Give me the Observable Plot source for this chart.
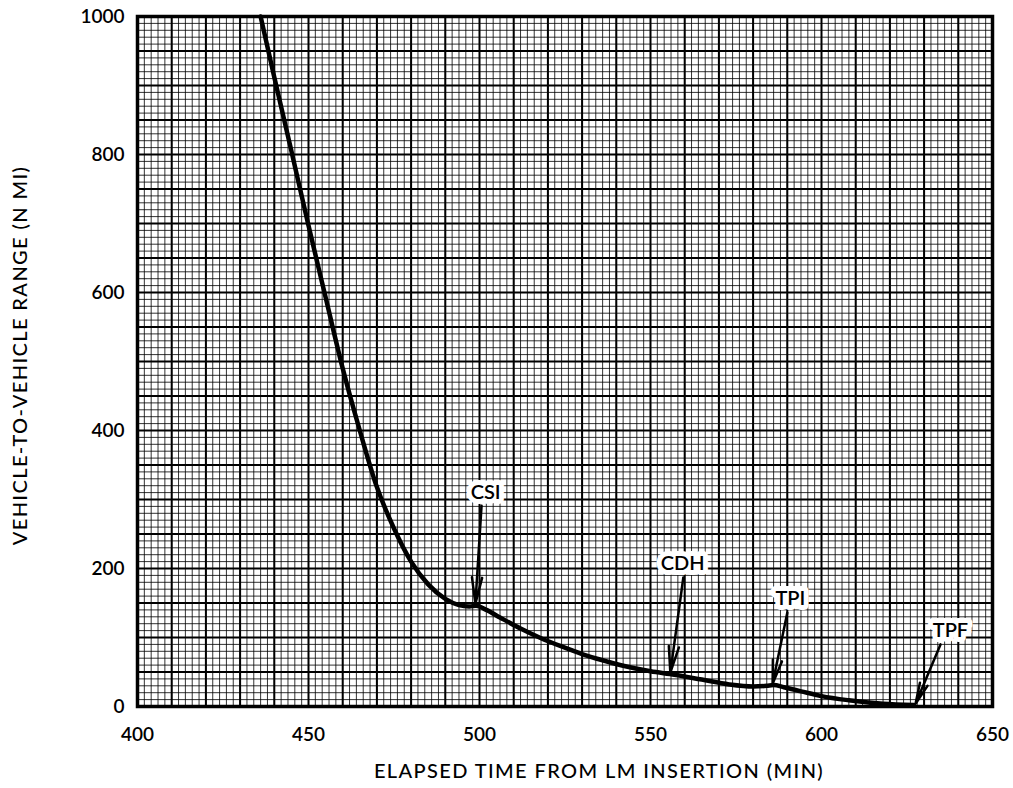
<!DOCTYPE html>
<html>
<head>
<meta charset="utf-8">
<script src="https://cdn.jsdelivr.net/npm/d3@7"></script>
<script src="https://cdn.jsdelivr.net/npm/@observablehq/plot@0.6"></script>
<style>
  html, body { margin: 0; padding: 0; background: #fff; }
</style>
</head>
<body>
<div id="chart"></div>
<script>
// Curve: elapsed time from LM insertion (min) vs vehicle-to-vehicle range (n mi)
const time  = [436, 440, 445, 450, 455, 460, 465, 470, 475, 480, 485, 490, 494, 497, 499, 502, 506, 512, 518, 524, 530, 536, 542, 550, 557, 565, 573, 580, 584, 586, 589, 594, 600, 608, 618, 627];
const range = [1000, 912, 805, 697, 593, 490, 400, 318, 258, 210, 177, 156, 147, 145, 146, 140, 129, 113, 99, 87, 76, 67, 59, 51, 46, 39, 32, 29, 30, 31, 28, 22, 15, 9, 4, 2];

// Event annotations
const eventLabels    = ["CSI", "CDH", "TPI", "TPF"];
const labelTime      = [501.8, 559.4, 590.9, 637.7];
const labelRange     = [310, 207, 157, 110];
const arrowFromTime  = [500.6, 559.6, 590.0, 634.8];
const arrowFromRange = [291, 187, 136, 90];
const arrowToTime    = [498.8, 555.8, 585.7, 627.5];
const arrowToRange   = [149, 49, 33, 4];

// Axis ticks and titles
const xTicks = [400, 450, 500, 550, 600, 650];
const yTicks = [0, 200, 400, 600, 800, 1000];
const xTitle = "ELAPSED TIME FROM LM INSERTION (MIN)";
const yTitle = "VEHICLE-TO-VEHICLE RANGE (N MI)";

const curve = time.map((t, i) => ({t, r: range[i]}));
const events = eventLabels.map((name, i) => ({
  name, lt: labelTime[i], lr: labelRange[i],
  x1: arrowFromTime[i], y1: arrowFromRange[i], x2: arrowToTime[i], y2: arrowToRange[i]
}));

const fineX = d3.range(400, 651, 2);
const fineY = d3.range(0, 1001, 10);
const majorX = d3.range(400, 651, 10);
const majorY = d3.range(0, 1001, 50);

const font = "Lato, 'Open Sans', sans-serif";

const chart = Plot.plot({
  width: 1013,
  height: 788,
  marginLeft: 137,
  marginRight: 21,
  marginTop: 16,
  marginBottom: 82,
  style: {fontFamily: font, fontSize: "18px", color: "#000", background: "#fff"},
  x: {domain: [400, 650]},
  y: {domain: [0, 1000]},
  marks: [
    Plot.ruleX(fineX, {stroke: "#000", strokeOpacity: 0.8, strokeWidth: 1}),
    Plot.ruleY(fineY, {stroke: "#000", strokeOpacity: 0.8, strokeWidth: 1}),
    Plot.ruleX(majorX, {stroke: "#000", strokeWidth: 2}),
    Plot.ruleY(majorY, {stroke: "#000", strokeWidth: 2}),
    Plot.frame({stroke: "#000", strokeWidth: 3.5}),
    Plot.axisX({ticks: xTicks, tickFormat: d => String(d), tickSize: 0, tickPadding: 21,
      fontSize: 19, fontWeight: 600, label: null}),
    Plot.axisY({ticks: yTicks, tickFormat: d => String(d), tickSize: 0, tickPadding: 13,
      fontSize: 19, fontWeight: 600, label: null}),
    Plot.text([xTitle], {text: d => d, frameAnchor: "bottom", textAnchor: "middle", dx: 34, dy: 71,
      fontSize: 20, fontWeight: 500}),
    Plot.text([yTitle], {text: d => d, frameAnchor: "left", textAnchor: "middle", rotate: -90, dx: -117, dy: -6,
      fontSize: 20, fontWeight: 500}),
    Plot.line(curve, {x: "t", y: "r", stroke: "#000", strokeWidth: 4.5, curve: "monotone-x"}),
    Plot.arrow(events, {x1: "x1", y1: "y1", x2: "x2", y2: "y2", stroke: "#000", strokeWidth: 2.5, headLength: 16, headAngle: 22}),
    Plot.text(events, {x: "lt", y: "lr", text: "name", fontSize: 20, fontWeight: 600, fill: "#000",
      stroke: "#fff", strokeWidth: 10, strokeLinejoin: "round", paintOrder: "stroke"})
  ]
});

chart.querySelectorAll("text").forEach(t => {
  if (t.textContent === xTitle || t.textContent === yTitle) t.style.letterSpacing = "1.4px";
});

document.getElementById("chart").appendChild(chart);
</script>
</body>
</html>
